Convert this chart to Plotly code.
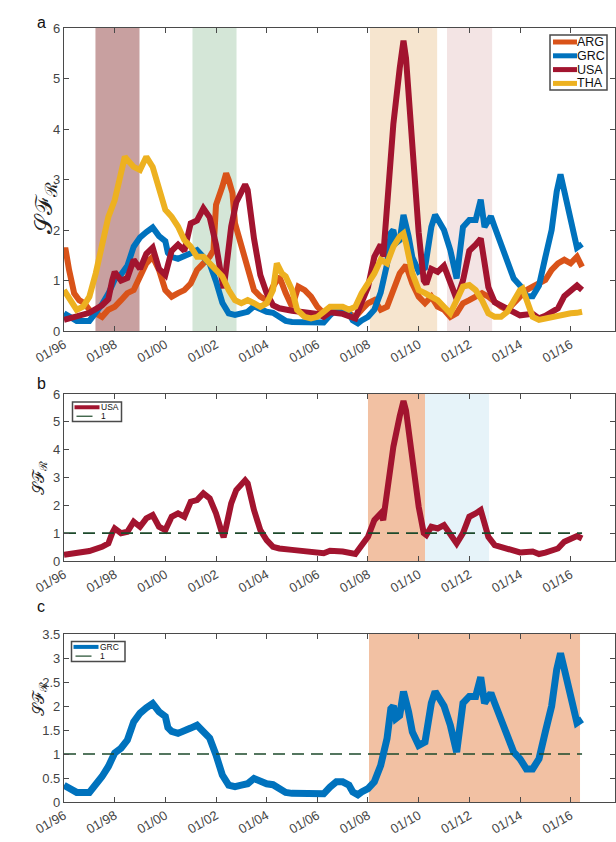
import plotly.graph_objects as go
import pandas as pd

# ---------------- data (decimal years) ----------------
arg_t = [1996.0, 1996.05, 1996.2, 1996.4, 1996.6, 1996.8, 1997.0, 1997.25, 1997.5, 1997.75,
         1998.0, 1998.25, 1998.5, 1998.75, 1999.0, 1999.25, 1999.5, 1999.75, 2000.0, 2000.25,
         2000.5, 2000.75, 2001.0, 2001.25, 2001.5, 2001.75, 2001.9, 2002.0, 2002.25, 2002.4,
         2002.5, 2002.65, 2002.75, 2003.0, 2003.25, 2003.5, 2003.75, 2004.0, 2004.25, 2004.5,
         2004.75, 2005.0, 2005.25, 2005.5, 2005.75, 2006.0, 2006.25, 2006.5, 2006.75, 2007.0,
         2007.25, 2007.5, 2007.75, 2008.0, 2008.25, 2008.5, 2008.75, 2009.0, 2009.25, 2009.5,
         2009.75, 2010.0, 2010.25, 2010.5, 2010.75, 2011.0, 2011.25, 2011.5, 2011.75, 2012.0,
         2012.25, 2012.5, 2012.75, 2013.0, 2013.25, 2013.5, 2013.75, 2014.0, 2014.25, 2014.5,
         2014.75, 2015.0, 2015.25, 2015.5, 2015.75, 2016.0, 2016.25, 2016.45]
arg_v = [1.5, 1.65, 1.21, 0.75, 0.61, 0.55, 0.42, 0.35, 0.28, 0.42,
         0.48, 0.61, 0.75, 0.81, 1.08, 1.34, 1.47, 1.21, 0.81, 0.68,
         0.75, 0.81, 0.94, 1.21, 1.34, 1.47, 1.6, 2.5, 2.86, 3.12,
         2.99, 2.73, 2.13, 1.7, 1.21, 0.81, 0.68, 0.61, 0.88, 1.08,
         0.75, 0.48, 0.88, 0.81, 0.68, 0.48, 0.35, 0.42, 0.45, 0.42,
         0.35, 0.28, 0.42, 0.55, 0.61, 0.42, 0.48, 0.81, 1.14, 1.3,
         0.94, 0.68, 0.55, 0.68, 0.48, 0.42, 0.28, 0.35, 0.55, 0.61,
         0.68, 0.75, 0.68, 0.58, 0.48, 0.42, 0.55, 0.68, 0.81, 0.88,
         0.94, 1.01, 1.21, 1.34, 1.41, 1.34, 1.47, 1.27]

grc_t = [1996.0, 1996.25, 1996.5, 1997.0, 1997.25, 1997.5, 1997.75, 1998.0, 1998.25, 1998.5,
         1998.75, 1999.0, 1999.25, 1999.5, 1999.75, 2000.0, 2000.1, 2000.25, 2000.5, 2000.75,
         2001.0, 2001.25, 2001.5, 2001.75, 2002.0, 2002.25, 2002.5, 2002.75, 2003.0, 2003.25,
         2003.5, 2003.75, 2004.0, 2004.25, 2004.5, 2004.75, 2005.0, 2005.5, 2006.0, 2006.25,
         2006.5, 2006.75, 2007.0, 2007.25, 2007.4, 2007.6, 2007.75, 2008.0, 2008.25, 2008.5,
         2008.75, 2008.9, 2009.0, 2009.1, 2009.25, 2009.4, 2009.6, 2009.75, 2010.0, 2010.25,
         2010.5, 2010.65, 2010.85, 2011.0, 2011.25, 2011.5, 2011.75, 2012.0, 2012.25, 2012.45,
         2012.6, 2012.85, 2013.0, 2013.25, 2013.5, 2013.75, 2014.0, 2014.25, 2014.5, 2014.75,
         2015.0, 2015.25, 2015.45, 2015.6, 2015.75, 2016.0, 2016.25, 2016.45]
grc_v = [0.35, 0.29, 0.2, 0.2, 0.35, 0.53, 0.74, 1.02, 1.12, 1.29,
         1.67, 1.85, 1.96, 2.05, 1.88, 1.78, 1.55, 1.47, 1.43, 1.47,
         1.54, 1.6, 1.47, 1.33, 0.98, 0.56, 0.35, 0.32, 0.35, 0.38,
         0.49, 0.43, 0.38, 0.36, 0.28, 0.2, 0.18, 0.18, 0.18, 0.17,
         0.31, 0.42, 0.42, 0.35, 0.21, 0.15, 0.21, 0.28, 0.42, 0.76,
         1.32, 1.94, 2.0, 1.74, 1.8, 2.3, 1.88, 1.46, 1.18, 1.25,
         2.06, 2.3, 2.13, 2.0, 1.6, 1.04, 2.06, 2.2, 2.2, 2.6,
         2.06, 2.27, 2.06, 1.72, 1.32, 1.04, 0.9, 0.69, 0.69, 0.9,
         1.46, 2.0, 2.76, 3.1, 2.77, 2.27, 1.65, 1.72]

usa_t = [1996.0, 1996.5, 1997.0, 1997.5, 1997.75, 1997.9, 1998.0, 1998.25, 1998.5, 1998.75,
         1999.0, 1999.25, 1999.5, 1999.75, 2000.0, 2000.25, 2000.5, 2000.75, 2001.0, 2001.25,
         2001.5, 2001.75, 2002.0, 2002.2, 2002.3, 2002.4, 2002.6, 2002.8, 2003.0, 2003.15,
         2003.25, 2003.5, 2003.75, 2004.0, 2004.25, 2004.5, 2005.0, 2005.5, 2006.0, 2006.25,
         2006.5, 2007.0, 2007.5, 2007.75, 2008.0, 2008.25, 2008.5, 2008.6, 2008.75, 2009.0,
         2009.25, 2009.4, 2009.5, 2009.75, 2010.0, 2010.2, 2010.3, 2010.5, 2010.75, 2011.0,
         2011.25, 2011.5, 2011.75, 2012.0, 2012.25, 2012.45, 2012.6, 2012.75, 2013.0, 2013.5,
         2014.0, 2014.5, 2014.75, 2015.0, 2015.5, 2015.75, 2016.0, 2016.25, 2016.45]
usa_v = [0.22, 0.28, 0.36, 0.51, 0.63, 1.0, 1.17, 1.0, 1.05, 1.41,
         1.23, 1.53, 1.65, 1.23, 1.11, 1.59, 1.71, 1.59, 2.13, 2.19,
         2.43, 2.25, 1.71, 1.11, 0.85, 1.23, 2.07, 2.55, 2.79, 2.9,
         2.79, 1.83, 1.11, 0.75, 0.51, 0.45, 0.4, 0.37, 0.34, 0.28,
         0.37, 0.34, 0.25, 0.57, 0.87, 1.47, 1.71, 1.47, 2.55, 4.1,
         5.2, 5.75, 5.4, 3.5, 1.95, 1.0, 0.93, 1.23, 1.17, 1.29,
         0.93, 0.63, 1.0, 1.59, 1.71, 1.83, 1.35, 0.87, 0.57, 0.45,
         0.31, 0.34, 0.25, 0.3, 0.45, 0.69, 0.81, 0.9, 0.81]

tha_t = [1996.0, 1996.25, 1996.5, 1996.75, 1997.0, 1997.25, 1997.5, 1997.75, 1998.0, 1998.25,
         1998.4, 1998.5, 1998.75, 1999.0, 1999.25, 1999.5, 1999.75, 2000.0, 2000.25, 2000.5,
         2000.75, 2001.0, 2001.25, 2001.5, 2001.75, 2002.0, 2002.25, 2002.5, 2002.75, 2003.0,
         2003.25, 2003.5, 2003.75, 2004.0, 2004.25, 2004.4, 2004.6, 2004.75, 2005.0, 2005.2,
         2005.5, 2005.75, 2006.0, 2006.25, 2006.5, 2006.75, 2007.0, 2007.25, 2007.5, 2007.75,
         2008.0, 2008.25, 2008.5, 2008.75, 2009.0, 2009.25, 2009.4, 2009.5, 2009.75, 2010.0,
         2010.25, 2010.5, 2010.75, 2011.0, 2011.25, 2011.5, 2011.75, 2012.0, 2012.25, 2012.5,
         2012.75, 2013.0, 2013.25, 2013.5, 2013.75, 2014.0, 2014.1, 2014.25, 2014.5, 2014.75,
         2015.0, 2015.25, 2015.5, 2015.75, 2016.0, 2016.25, 2016.45]
tha_v = [0.81, 0.61, 0.42, 0.48, 0.68, 1.14, 1.67, 2.26, 2.59, 3.06,
         3.45, 3.39, 3.25, 3.19, 3.45, 3.25, 2.86, 2.4, 2.26, 2.07,
         1.8, 1.67, 1.47, 1.47, 1.34, 1.21, 1.08, 0.81, 0.61, 0.55,
         0.61, 0.55, 0.48, 0.55, 0.81, 1.34, 1.14, 1.08, 0.81, 0.42,
         0.28, 0.25, 0.28, 0.38, 0.48, 0.48, 0.48, 0.42, 0.48, 0.75,
         0.94, 1.14, 1.41, 1.34, 1.67, 1.87, 1.93, 1.74, 1.14, 0.81,
         0.75, 0.68, 0.61, 0.48, 0.35, 0.61, 0.88, 0.91, 0.81, 0.61,
         0.35, 0.28, 0.28, 0.38, 0.61, 0.81, 0.84, 0.61, 0.28, 0.22,
         0.25, 0.28, 0.28, 0.32, 0.35, 0.36, 0.38]

ref_level = 1

# crisis periods (decimal years)
events_a = [(1997.24, 1998.98), (2001.07, 2002.81), (2008.08, 2010.73), (2011.12, 2012.90)]
events_b = [(2008.0, 2010.25), (2010.25, 2012.78)]
events_c = [(2008.04, 2016.37)]

tick_years = list(range(1996, 2017, 2))
tick_labels = ["01/%02d" % (y % 100) for y in tick_years]
x_range_years = (1996.0, 2017.75)

# ---------------- styles ----------------
C_ARG = "#D95319"
C_GRC = "#0072BD"
C_USA = "#A2142F"
C_THA = "#EDB120"
C_REF = "#1d4a2b"
shade_a = ["#c8a0a0", "#d4e6d7", "#f6e5cf", "#f3e4e4"]
shade_b = ["#f2c1a3", "#e6f3f9"]
shade_c = ["#f2c1a3"]
AX = "#4a4a4a"
FONT = "Liberation Sans, Arial, Helvetica, sans-serif"

W, H = 616, 842


def px(x):
    return x / W


def py(y):
    return 1 - y / H


def to_dates(years):
    out = []
    for y in years:
        yi = int(y)
        s = pd.Timestamp(yi, 1, 1)
        e = pd.Timestamp(yi + 1, 1, 1)
        out.append(s + (e - s) * (y - yi))
    return out


fig = go.Figure()


def add_line(t, v, color, width, xa, ya):
    fig.add_trace(go.Scatter(x=to_dates(t), y=v, mode="lines",
                             line=dict(color=color, width=width),
                             showlegend=False, hoverinfo="skip",
                             xaxis=xa, yaxis=ya))


# panel a
add_line(arg_t, arg_v, C_ARG, 6, "x", "y")
add_line(grc_t, grc_v, C_GRC, 6, "x", "y")
add_line(usa_t, usa_v, C_USA, 6, "x", "y")
add_line(tha_t, tha_v, C_THA, 6, "x", "y")
# panel b
add_line(usa_t, usa_v, C_USA, 6, "x2", "y2")
fig.add_trace(go.Scatter(x=to_dates([usa_t[0], usa_t[-1]]), y=[ref_level, ref_level], mode="lines",
                         line=dict(color=C_REF, width=1.6, dash="12px,7px"),
                         showlegend=False, hoverinfo="skip", xaxis="x2", yaxis="y2"))
# panel c
add_line(grc_t, grc_v, C_GRC, 7, "x3", "y3")
fig.add_trace(go.Scatter(x=to_dates([grc_t[0], grc_t[-1]]), y=[ref_level, ref_level], mode="lines",
                         line=dict(color=C_REF, width=1.6, dash="12px,7px"),
                         showlegend=False, hoverinfo="skip", xaxis="x3", yaxis="y3"))

shapes = []


def add_events(events, colors, xa, ya):
    for (s, e), col in zip(events, colors):
        d0, d1 = to_dates([s, e])
        shapes.append(dict(type="rect", xref=xa, yref=ya + " domain", x0=d0, x1=d1,
                           y0=0, y1=1, fillcolor=col, line=dict(width=0), layer="below"))


add_events(events_a, shade_a, "x", "y")
add_events(events_b, shade_b, "x2", "y2")
add_events(events_c, shade_c, "x3", "y3")

xr = to_dates(list(x_range_years))
xdom = [px(64), px(615)]


def xaxis_cfg(anchor):
    return dict(domain=xdom, anchor=anchor, type="date", range=xr, automargin=False,
                tickvals=to_dates(tick_years), ticktext=tick_labels, tickangle=-30,
                ticks="inside", ticklen=5, tickwidth=1, tickcolor=AX,
                showline=True, linecolor=AX, linewidth=1.2, mirror="ticks",
                showgrid=False, zeroline=False,
                tickfont=dict(family=FONT, size=13, color="#444444"))


def yaxis_cfg(anchor, dom, rng, dtick):
    return dict(domain=[py(dom[0]), py(dom[1])], anchor=anchor, range=rng, dtick=dtick,
                automargin=False,
                ticks="inside", ticklen=5, tickwidth=1, tickcolor=AX,
                showline=True, linecolor=AX, linewidth=1.2, mirror="ticks",
                showgrid=False, zeroline=False,
                tickfont=dict(family=FONT, size=13, color="#444444"))


annotations = []
title_txt = "\U0001D4AE\u2131<sub>\u211B</sub>"
annotations.append(dict(text=title_txt, x=px(27), y=py(180), xref="paper", yref="paper",
                        showarrow=False, textangle=-90, font=dict(family="DejaVu Serif, serif", size=24, color="#222")))
annotations.append(dict(text=title_txt, x=px(26), y=py(478), xref="paper", yref="paper",
                        showarrow=False, textangle=-90, font=dict(family="DejaVu Serif, serif", size=16, color="#222")))
annotations.append(dict(text=title_txt, x=px(26), y=py(718), xref="paper", yref="paper",
                        showarrow=False, textangle=-90, font=dict(family="DejaVu Serif, serif", size=16, color="#222")))
for lab, (lx, ly) in zip(["a", "b", "c"], [(35, 12), (35, 383), (35, 617)]):
    annotations.append(dict(text=lab, x=px(lx), y=py(ly), xref="paper", yref="paper",
                            showarrow=False, font=dict(family=FONT, size=16, color="#111")))

# legend of panel a (drawn manually to keep the compact MATLAB spacing)
shapes.append(dict(type="rect", xref="paper", yref="paper", x0=px(550), x1=px(607),
                   y0=py(90), y1=py(35), line=dict(color=AX, width=1.5), fillcolor="white"))
for i, (name, col) in enumerate([("ARG", C_ARG), ("GRC", C_GRC), ("USA", C_USA), ("THA", C_THA)]):
    yc = 42 + i * 13.8
    shapes.append(dict(type="line", xref="paper", yref="paper", x0=px(553), x1=px(577),
                       y0=py(yc), y1=py(yc), line=dict(color=col, width=5)))
    annotations.append(dict(text=name, x=px(576), y=py(yc), xref="paper", yref="paper",
                            xanchor="left", yanchor="middle", showarrow=False, borderpad=0,
                            font=dict(family=FONT, size=12.5, color="#111")))


def small_legend(x0, x1, y0, y1, name, col, lw):
    shapes.append(dict(type="rect", xref="paper", yref="paper", x0=px(x0), x1=px(x1),
                       y0=py(y1), y1=py(y0), line=dict(color=AX, width=1.5), fillcolor="white"))
    r1 = y0 + (y1 - y0) * 0.27
    r2 = y0 + (y1 - y0) * 0.73
    shapes.append(dict(type="line", xref="paper", yref="paper", x0=px(x0 + 2), x1=px(x0 + 27),
                       y0=py(r1), y1=py(r1), line=dict(color=col, width=lw)))
    shapes.append(dict(type="line", xref="paper", yref="paper", x0=px(x0 + 4), x1=px(x0 + 20),
                       y0=py(r2), y1=py(r2), line=dict(color=C_REF, width=1.2)))
    annotations.append(dict(text=name, x=px(x0 + 27), y=py(r1), xref="paper", yref="paper",
                            xanchor="left", yanchor="middle", showarrow=False, borderpad=0,
                            font=dict(family=FONT, size=8.5, color="#111")))
    annotations.append(dict(text="1", x=px(x0 + 27), y=py(r2), xref="paper", yref="paper",
                            xanchor="left", yanchor="middle", showarrow=False, borderpad=0,
                            font=dict(family=FONT, size=8.5, color="#111")))


small_legend(72.5, 121.5, 402, 421.5, "USA", C_USA, 4)
small_legend(71.5, 125, 641.5, 661.5, "GRC", C_GRC, 4)

fig.update_layout(
    template="none",
    width=W, height=H, margin=dict(l=0, r=0, t=0, b=0, pad=0),
    paper_bgcolor="white", plot_bgcolor="white",
    font=dict(family=FONT),
    xaxis=xaxis_cfg("y"), xaxis2=xaxis_cfg("y2"), xaxis3=xaxis_cfg("y3"),
    yaxis=yaxis_cfg("x", (331, 28), [0, 6], 1),
    yaxis2=yaxis_cfg("x2", (561, 394), [0, 6], 1),
    yaxis3=yaxis_cfg("x3", (802, 634), [0, 3.5], 0.5),
    shapes=shapes, annotations=annotations, showlegend=False,
)

fig.write_html("out.html", config={"displayModeBar": False},
               post_script="document.body.style.margin='0';document.body.style.padding='0';"
                           "document.body.style.overflow='hidden';"
                           "document.documentElement.style.overflow='hidden';")
